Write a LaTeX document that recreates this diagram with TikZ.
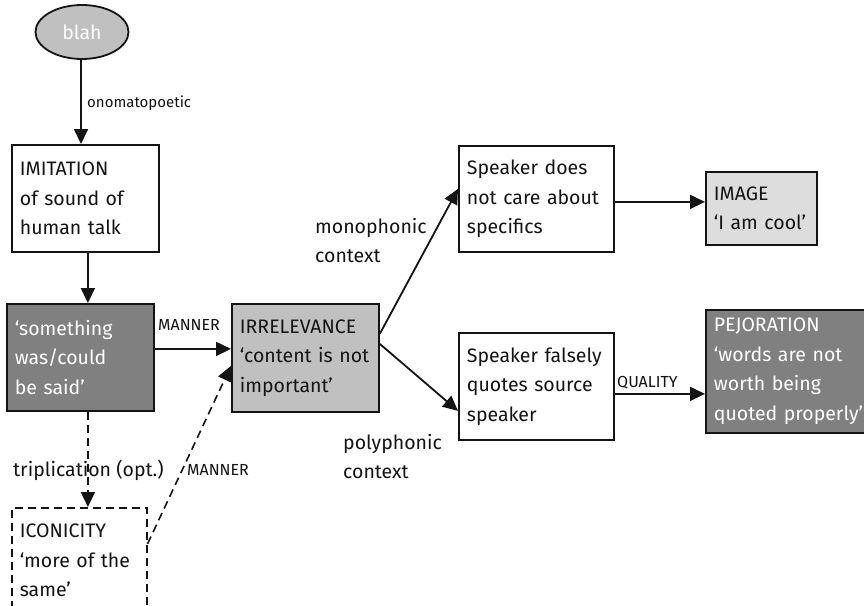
\documentclass[tikz,border=0pt]{standalone}
\usepackage{fontspec}
\setmainfont{Fira Sans}
\usetikzlibrary{arrows.meta,shapes.geometric}
\definecolor{boxlight}{RGB}{192,192,192}
\definecolor{boxdark}{RGB}{128,128,128}
\definecolor{boxpale}{RGB}{221,221,221}
\definecolor{ink}{RGB}{20,20,20}
\newcommand\boxfont{\fontsize{19.5}{29.5}\selectfont}
\newcommand\labfont{\fontsize{15}{16}\selectfont}
\newcommand\capsfont{\fontsize{16}{18}\selectfont}
\newcommand\ctxfont{\fontsize{19.5}{29}\selectfont}
\tikzset{
  box/.style={draw=ink, line width=1.8pt, rectangle, anchor=north west,
    inner xsep=8pt, inner ysep=0pt, align=left, font=\boxfont, text=ink},
  dashbox/.style={box, line width=1.6pt, dash pattern=on 8pt off 5pt},
  arr/.style={draw=ink, line width=1.8pt, -{Triangle[length=15pt,width=14pt]}},
  darr/.style={arr, line width=1.6pt, dash pattern=on 8pt off 5pt},
  lab/.style={anchor=west, inner sep=0pt, font=\labfont, text=ink},
  caplab/.style={lab, font=\capsfont},
  ctx/.style={anchor=west, inner sep=0pt, align=left, font=\ctxfont, text=ink},
}
\begin{document}
\begin{tikzpicture}[x=1pt,y=-1pt]
\useasboundingbox (0,0) rectangle (864,605);
\fill[white] (0,0) rectangle (864,605);
\clip (0,0) rectangle (864,605);

% source word
\node[ellipse, draw=ink, line width=1.8pt, fill=boxlight, minimum width=93pt,
  minimum height=54pt, inner sep=0pt, text=white, font=\boxfont] (blah) at (82,32) {blah};

% boxes
\node[box, minimum width=147pt, minimum height=107pt, text width=131pt] (imit) at (11,144)
  {IMITATION\\of sound of\\human talk};
\node[box, fill=boxdark, text=white, minimum width=147pt, minimum height=107pt, text width=131pt] (some) at (6,303)
  {‘something\\was/could\\be said’};
\node[box, fill=boxlight, minimum width=147pt, minimum height=108pt, text width=131pt] (irr) at (231,303)
  {IRRELEVANCE\\\mbox{‘content is not}\\important’};
\node[dashbox, minimum width=135pt, minimum height=105pt, text width=119pt] (icon) at (11,507)
  {ICONICITY\\‘more of the\\same’};
\node[box, minimum width=155pt, minimum height=106pt, text width=139pt] (spk1) at (458,145)
  {Speaker does\\not care about\\specifics};
\node[box, minimum width=155pt, minimum height=107pt, text width=139pt] (spk2) at (458,332)
  {Speaker falsely\\quotes source\\speaker};
\node[box, fill=boxpale, minimum width=111pt, minimum height=73pt, text width=95pt] (img) at (705,171)
  {IMAGE\\‘I am cool’};
\node[box, fill=boxdark, text=white, minimum width=185pt, minimum height=123pt, text width=169pt] (pej) at (705,309)
  {PEJORATION\\‘words are not\\worth being\\quoted properly’};

% connectors
\draw[arr] ([xshift=-1pt]blah.south) -- ([xshift=-1pt]blah.south |- imit.north);
\draw[arr] ([xshift=2.5pt]imit.south) -- ([xshift=2.5pt]imit.south |- some.north);
\draw[arr] ([yshift=8.5pt]some.east) -- ([yshift=8.5pt]some.east -| irr.west);
\draw[darr] ([xshift=7.5pt]some.south) -- ([xshift=7.5pt]some.south |- icon.north);
\draw[darr] ([yshift=16.5pt]icon.east) -- ([yshift=-8pt]irr.west);
\draw[arr] ([yshift=24pt]irr.east) -- ([yshift=10pt]spk1.west);
\draw[arr] ([yshift=14pt]irr.east) -- ([yshift=-24.5pt]spk2.west);
\draw[arr] ([yshift=-3pt]spk1.east) -- ([yshift=-3pt]spk1.east -| img.west);
\draw[arr] ([yshift=-7.5pt]spk2.east) -- ([yshift=-7.5pt]spk2.east -| pej.west);

% labels
\node[lab] (lono) at (87,103) {onomatopoetic};
\node[caplab] (lman1) at (158,325) {MANNER};
\node[caplab] (lman2) at (187,470) {MANNER};
\node[caplab] (lqual) at (617,383) {QUALITY};
\node[ctx] (ltrip) at (13,470) {triplication (opt.)};
\node[ctx] (lmono) at (315,241) {monophonic\\context};
\node[ctx] (lpoly) at (343,457) {polyphonic\\context};
\end{tikzpicture}
\end{document}
